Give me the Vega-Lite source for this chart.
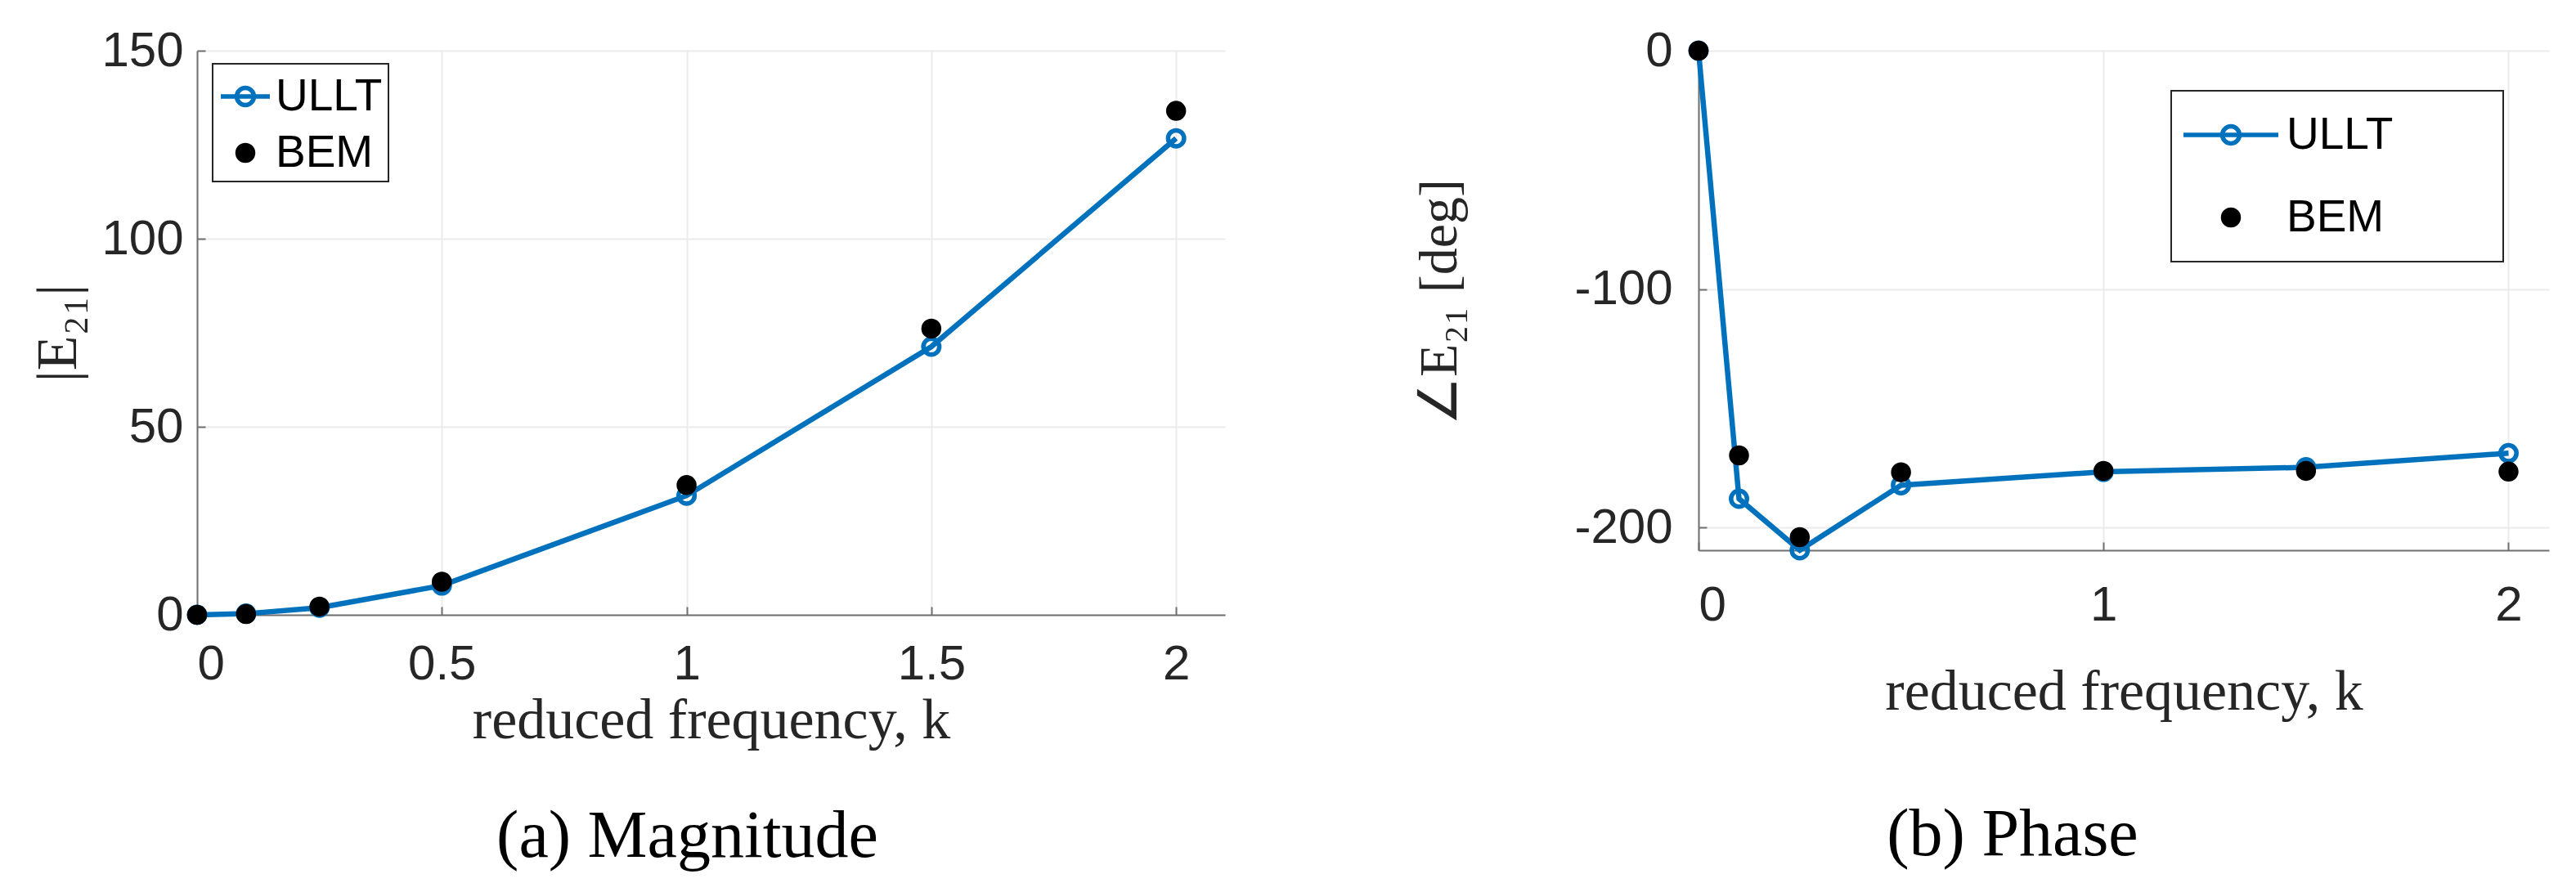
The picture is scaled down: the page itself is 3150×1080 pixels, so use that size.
{
  "$schema": "https://vega.github.io/schema/vega-lite/v6.json",
  "background": "white",
  "padding": {"left": 36, "top": 32, "right": 10, "bottom": 30},
  "bounds": "flush",
  "spacing": 579,
  "datasets": {
    "mag": [
      {"series": "ULLT", "k": 0, "v": 0},
      {"series": "ULLT", "k": 0.1, "v": 0.3},
      {"series": "ULLT", "k": 0.25, "v": 1.9},
      {"series": "ULLT", "k": 0.5, "v": 7.8},
      {"series": "ULLT", "k": 1, "v": 31.7},
      {"series": "ULLT", "k": 1.5, "v": 71.3},
      {"series": "ULLT", "k": 2, "v": 126.7},
      {"series": "BEM", "k": 0, "v": 0},
      {"series": "BEM", "k": 0.1, "v": 0.2},
      {"series": "BEM", "k": 0.25, "v": 2.2},
      {"series": "BEM", "k": 0.5, "v": 8.8},
      {"series": "BEM", "k": 1, "v": 34.5},
      {"series": "BEM", "k": 1.5, "v": 76.1},
      {"series": "BEM", "k": 2, "v": 134.0}
    ],
    "phase": [
      {"series": "ULLT", "k": 0, "v": 0},
      {"series": "ULLT", "k": 0.1, "v": -188.0},
      {"series": "ULLT", "k": 0.25, "v": -209.6},
      {"series": "ULLT", "k": 0.5, "v": -182.3},
      {"series": "ULLT", "k": 1, "v": -176.7},
      {"series": "ULLT", "k": 1.5, "v": -174.8},
      {"series": "ULLT", "k": 2, "v": -168.9},
      {"series": "BEM", "k": 0, "v": 0},
      {"series": "BEM", "k": 0.1, "v": -169.8},
      {"series": "BEM", "k": 0.25, "v": -204.1},
      {"series": "BEM", "k": 0.5, "v": -176.9},
      {"series": "BEM", "k": 1, "v": -176.3},
      {"series": "BEM", "k": 1.5, "v": -176.3},
      {"series": "BEM", "k": 2, "v": -176.6}
    ]
  },
  "config": {
    "view": {"stroke": null},
    "axis": {
      "labelFont": "Liberation Sans", "labelFontSize": 60, "labelColor": "#262626",
      "titleFont": "Liberation Serif", "titleFontSize": 70, "titleColor": "#262626", "titleFontWeight": "normal",
      "domainColor": "#707070", "domainWidth": 2,
      "tickColor": "#707070", "tickWidth": 2, "tickSize": -10,
      "gridColor": "#ebebeb", "gridWidth": 2
    },
    "title": {"font": "Liberation Serif", "fontSize": 82, "fontWeight": "normal", "color": "black", "orient": "bottom", "anchor": "middle", "frame": "group"}
  },
  "hconcat": [
    {
      "width": 1257,
      "height": 690,
      "title": {"text": "(a) Magnitude", "offset": 67, "dx": -29},
      "data": {"name": "mag"},
      "encoding": {
        "x": {"field": "k", "type": "quantitative",
          "scale": {"domain": [0, 2.1], "nice": false, "zero": false},
          "axis": {"values": [0, 0.5, 1, 1.5, 2], "labelExpr": "'' + datum.value", "labelPadding": 41, "title": "reduced frequency, k", "titleBaseline": "alphabetic", "titleY": 150}},
        "y": {"field": "v", "type": "quantitative",
          "scale": {"domain": [0, 150], "nice": false},
          "axis": {"values": [0, 50, 100, 150], "labelExpr": "'' + datum.value", "labelPadding": 27, "title": "|E₂₁|", "titleAngle": 270, "titleAlign": "center", "titleBaseline": "alphabetic", "titleX": -149, "titleY": 345}},
        "color": {"field": "series", "type": "nominal",
          "scale": {"domain": ["ULLT", "BEM"], "range": ["#0072BD", "#000000"]},
          "legend": {
            "orient": "none", "legendX": 19, "legendY": 16, "title": null,
            "fillColor": "white", "strokeColor": "#262626", "padding": 7,
            "labelFont": "Liberation Sans", "labelFontSize": 55, "labelColor": "black",
            "labelOffset": 4, "rowPadding": 8, "symbolSize": 3600, "symbolStrokeWidth": 5,
            "encode": {
              "legend": {"update": {"strokeWidth": {"value": 2}}},
              "symbols": {"update": {
                "shape": {"signal": "datum.value === 'BEM' ? 'circle' : 'M-1,0L1,0M-0.35,0A0.35,0.35,0,1,0,0.35,0A0.35,0.35,0,1,0,-0.35,0'"},
                "size": {"signal": "datum.value === 'BEM' ? 600 : 3600"},
                "fill": {"signal": "datum.value === 'BEM' ? '#000000' : '#ffffff'"},
                "fillOpacity": {"signal": "datum.value === 'BEM' ? 1 : 0"},
                "stroke": {"signal": "datum.value === 'BEM' ? '#000000' : '#0072BD'"},
                "strokeOpacity": {"signal": "datum.value === 'BEM' ? 0 : 1"},
                "strokeWidth": {"value": 5.5},
                "opacity": {"value": 1}
              }}
            }
          }}
      },
      "layer": [
        {"transform": [{"filter": "datum.series === 'ULLT'"}], "mark": {"type": "line", "strokeWidth": 6.5}},
        {"transform": [{"filter": "datum.series === 'ULLT'"}], "mark": {"type": "point", "shape": "circle", "filled": false, "size": 380, "strokeWidth": 5.5, "opacity": 1}},
        {"transform": [{"filter": "datum.series === 'BEM'"}], "mark": {"type": "point", "shape": "circle", "filled": true, "size": 600, "opacity": 1}}
      ]
    },
    {
      "width": 1040,
      "height": 611,
      "title": {"text": "(b) Phase", "offset": 100, "dx": -136},
      "data": {"name": "phase"},
      "encoding": {
        "x": {"field": "k", "type": "quantitative",
          "scale": {"domain": [0, 2.1], "nice": false, "zero": false},
          "axis": {"values": [0, 1, 2], "labelExpr": "'' + datum.value", "labelPadding": 48, "title": "reduced frequency, k", "titleBaseline": "alphabetic", "titleY": 194}},
        "y": {"field": "v", "type": "quantitative",
          "scale": {"domain": [-209.6, 0], "nice": false, "zero": false},
          "axis": {"values": [-200, -100, 0], "labelExpr": "'' + datum.value", "labelPadding": 42, "title": "∠E₂₁  [deg]", "titleFontSize": 66, "titleAngle": 270, "titleAlign": "center", "titleBaseline": "alphabetic", "titleX": -297, "titleY": 307}},
        "color": {"field": "series", "type": "nominal",
          "scale": {"domain": ["ULLT", "BEM"], "range": ["#0072BD", "#000000"]},
          "legend": {
            "orient": "none", "legendX": 578, "legendY": 49, "title": null,
            "fillColor": "white", "strokeColor": "#262626", "padding": 12,
            "labelFont": "Liberation Sans", "labelFontSize": 55, "labelColor": "black",
            "labelLimit": 600, "clipHeight": 84,
            "labelOffset": 7, "rowPadding": 17, "symbolSize": 13456, "symbolStrokeWidth": 5,
            "encode": {
              "legend": {"update": {"strokeWidth": {"value": 2}}},
              "labels": {"update": {"text": {"signal": "datum.label + '\u00a0\u00a0\u00a0\u00a0\u00a0\u00a0\u00a0\u00a0\u200b'"}}},
              "symbols": {"update": {
                "shape": {"signal": "datum.value === 'BEM' ? 'circle' : 'M-1,0L1,0M-0.18,0A0.18,0.18,0,1,0,0.18,0A0.18,0.18,0,1,0,-0.18,0'"},
                "size": {"signal": "datum.value === 'BEM' ? 600 : 13456"},
                "fill": {"signal": "datum.value === 'BEM' ? '#000000' : '#ffffff'"},
                "fillOpacity": {"signal": "datum.value === 'BEM' ? 1 : 0"},
                "stroke": {"signal": "datum.value === 'BEM' ? '#000000' : '#0072BD'"},
                "strokeOpacity": {"signal": "datum.value === 'BEM' ? 0 : 1"},
                "strokeWidth": {"value": 5.5},
                "opacity": {"value": 1}
              }}
            }
          }}
      },
      "layer": [
        {"transform": [{"filter": "datum.series === 'ULLT'"}], "mark": {"type": "line", "strokeWidth": 6.5}},
        {"transform": [{"filter": "datum.series === 'ULLT'"}], "mark": {"type": "point", "shape": "circle", "filled": false, "size": 380, "strokeWidth": 5.5, "opacity": 1}},
        {"transform": [{"filter": "datum.series === 'BEM'"}], "mark": {"type": "point", "shape": "circle", "filled": true, "size": 600, "opacity": 1}}
      ]
    }
  ],
  "resolve": {"scale": {"color": "independent"}, "legend": {"color": "independent"}}
}
